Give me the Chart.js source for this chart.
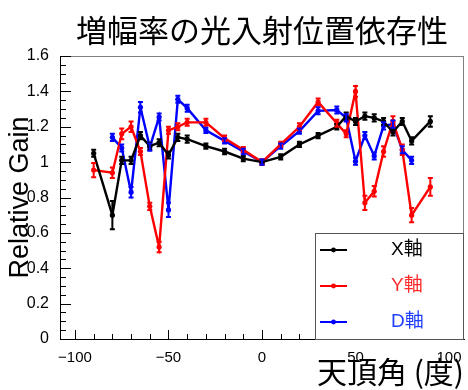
<!DOCTYPE html>
<html>
<head>
<meta charset="utf-8">
<script src="https://cdn.jsdelivr.net/npm/chart.js@4.4.1/dist/chart.umd.min.js"></script>
<style>
  html, body { margin: 0; padding: 0; background: #fff; }
  canvas { display: block; }
</style>
</head>
<body>
<canvas id="c" width="468" height="390"></canvas>
<script>
// Zenith angle (degrees) at which each axis was measured
const anglesX = [-90, -80, -75, -70, -65, -60, -55, -50, -45, -40, -30, -20, -10, 0, 10, 20, 30, 40, 45, 50, 55, 60, 65, 70, 75, 80, 90];
const anglesY = [-90, -80, -75, -70, -65, -60, -55, -50, -45, -40, -30, -20, -10, 0, 10, 20, 30, 40, 45, 50, 55, 60, 65, 70, 75, 80, 90];
const anglesD = [-80, -75, -70, -65, -60, -55, -50, -45, -40, -30, -20, -10, 0, 10, 20, 30, 40, 45, 50, 55, 60, 65, 70, 75, 80];

// Relative gain (normalised to 0 deg) and its uncertainty
const gainX = [1.05, 0.70, 1.01, 1.01, 1.15, 1.09, 1.11, 1.04, 1.14, 1.13, 1.09, 1.06, 1.02, 1.00, 1.03, 1.10, 1.15, 1.20, 1.26, 1.23, 1.26, 1.25, 1.23, 1.17, 1.23, 1.12, 1.23];
const errX  = [0.02, 0.08, 0.02, 0.02, 0.02, 0.02, 0.02, 0.02, 0.02, 0.02, 0.015, 0.015, 0.015, 0.015, 0.015, 0.015, 0.015, 0.015, 0.02, 0.02, 0.02, 0.02, 0.02, 0.02, 0.02, 0.02, 0.03];

const gainY = [0.955, 0.94, 1.16, 1.20, 1.06, 0.75, 0.52, 1.18, 1.20, 1.225, 1.225, 1.135, 1.07, 1.00, 1.10, 1.20, 1.34, 1.22, 1.16, 1.40, 0.77, 0.835, 1.06, 1.23, 1.07, 0.70, 0.86];
const errY  = [0.04, 0.03, 0.03, 0.03, 0.02, 0.02, 0.03, 0.02, 0.02, 0.02, 0.02, 0.015, 0.015, 0.015, 0.015, 0.02, 0.02, 0.02, 0.02, 0.03, 0.04, 0.03, 0.03, 0.03, 0.03, 0.04, 0.05];

const gainD = [1.14, 1.08, 0.83, 1.31, 1.085, 1.255, 0.73, 1.355, 1.305, 1.18, 1.12, 1.06, 1.00, 1.09, 1.175, 1.29, 1.295, 1.25, 1.005, 1.15, 1.035, 1.205, 1.215, 1.07, 1.01];
const errD  = [0.02, 0.02, 0.03, 0.03, 0.02, 0.02, 0.04, 0.02, 0.02, 0.015, 0.015, 0.015, 0.015, 0.015, 0.015, 0.02, 0.02, 0.02, 0.02, 0.02, 0.02, 0.02, 0.02, 0.02, 0.02];

const seriesNames = ['X軸', 'Y軸', 'D軸'];

// Axis ticks
const xMajorTicks = [-100, -50, 0, 50, 100];
const xTickLabels = ['−100', '−50', '0', '50', '100'];
const yMajorTicks = [0, 0.2, 0.4, 0.6, 0.8, 1.0, 1.2, 1.4, 1.6];
const yTickLabels = ['0', '0.2', '0.4', '0.6', '0.8', '1', '1.2', '1.4', '1.6'];
const xMinorStep = 10;
const yMinorStep = 0.05;

const TITLE = '増幅率の光入射位置依存性';
const X_TITLE = '天頂角 (度)';
const Y_TITLE = 'Relative Gain';

const LATIN = "'Liberation Sans', Arial, Helvetica, sans-serif";
const CJK = "'Liberation Sans', 'Noto Sans CJK JP', sans-serif";

function toPoints(xs, ys, es) {
  return xs.map((x, i) => ({ x: x, y: ys[i], err: es[i] }));
}

const colors = ['#000000', '#ff0000', '#0000ff'];
const textColors = ['#000000', '#ff2a2a', '#1f3fff'];

function makeSet(label, pts, color) {
  return {
    label: label,
    data: pts,
    borderColor: color,
    backgroundColor: color,
    borderWidth: 2.4,
    pointRadius: 2.6,
    pointBorderWidth: 0,
    pointBackgroundColor: color,
    showLine: true,
    fill: false,
    tension: 0
  };
}

// White page background
const bgPlugin = {
  id: 'bg',
  beforeDraw(chart) {
    const c = chart.ctx;
    c.save();
    c.fillStyle = '#fff';
    c.fillRect(0, 0, chart.width, chart.height);
    c.restore();
  }
};

// Vertical error bars with end caps
const errorBarPlugin = {
  id: 'errorBars',
  afterDatasetsDraw(chart) {
    const c = chart.ctx;
    const xs = chart.scales.x, ys = chart.scales.y;
    c.save();
    chart.data.datasets.forEach((ds) => {
      c.strokeStyle = ds.borderColor;
      c.lineWidth = 2;
      ds.data.forEach((p) => {
        const px = xs.getPixelForValue(p.x);
        const top = ys.getPixelForValue(p.y + p.err);
        const bot = ys.getPixelForValue(p.y - p.err);
        c.beginPath();
        c.moveTo(px, top); c.lineTo(px, bot);
        c.moveTo(px - 2.5, top); c.lineTo(px + 2.5, top);
        c.moveTo(px - 2.5, bot); c.lineTo(px + 2.5, bot);
        c.stroke();
      });
    });
    c.restore();
  }
};

// Inward tick marks, frame, title and legend box
const decorPlugin = {
  id: 'decor',
  afterDraw(chart) {
    const c = chart.ctx;
    const a = chart.chartArea;
    const xs = chart.scales.x, ys = chart.scales.y;
    c.save();

    // frame (top and right)
    c.strokeStyle = '#808080';
    c.lineWidth = 1;
    c.beginPath();
    c.moveTo(a.left, a.top + 0.5); c.lineTo(a.right, a.top + 0.5);
    c.moveTo(a.right - 0.5, a.top); c.lineTo(a.right - 0.5, a.bottom);
    c.stroke();

    // ticks on the x axis
    c.strokeStyle = '#000';
    c.beginPath();
    for (let v = -100; v <= 100; v += xMinorStep) {
      const px = Math.round(xs.getPixelForValue(v)) + 0.5;
      const len = xMajorTicks.includes(v) ? 9 : 5;
      c.moveTo(px, a.bottom); c.lineTo(px, a.bottom - len);
    }
    // ticks on the y axis
    for (let i = 0; i <= Math.round(1.6 / yMinorStep); i++) {
      const v = i * yMinorStep;
      const py = Math.round(ys.getPixelForValue(v)) + 0.5;
      const major = i % 4 === 0;
      c.moveTo(a.left, py); c.lineTo(a.left + (major ? 11 : 6), py);
    }
    c.stroke();

    // title
    c.fillStyle = '#000';
    c.font = "31px 'Noto Sans CJK JP', sans-serif";
    c.textAlign = 'center';
    c.textBaseline = 'middle';
    c.fillText(TITLE, 262, 30);

    // legend box
    const lx = 315, ly = 233, lw = a.right - lx, lh = a.bottom - ly;
    c.fillStyle = '#fff';
    c.fillRect(lx, ly, lw, lh);
    c.strokeStyle = '#555';
    c.lineWidth = 1;
    c.strokeRect(lx + 0.5, ly + 0.5, lw - 1, lh);
    const rows = [250, 286, 322];
    chart.data.datasets.forEach((ds, i) => {
      const y = rows[i];
      c.strokeStyle = ds.borderColor;
      c.lineWidth = 2;
      c.beginPath();
      c.moveTo(320, y); c.lineTo(347, y);
      c.stroke();
      c.fillStyle = ds.borderColor;
      c.beginPath();
      c.arc(333.5, y, 2.4, 0, Math.PI * 2);
      c.fill();
      c.fillStyle = textColors[i];
      c.font = "19px " + CJK;
      c.textAlign = 'left';
      c.textBaseline = 'middle';
      c.fillText(seriesNames[i], 391, y);
    });
    c.restore();
  }
};

new Chart(document.getElementById('c'), {
  type: 'line',
  data: {
    datasets: [
      makeSet(seriesNames[0], toPoints(anglesX, gainX, errX), colors[0]),
      makeSet(seriesNames[1], toPoints(anglesY, gainY, errY), colors[1]),
      makeSet(seriesNames[2], toPoints(anglesD, gainD, errD), colors[2])
    ]
  },
  options: {
    responsive: false,
    animation: false,
    devicePixelRatio: 1,
    layout: { padding: { top: 56, right: 2, left: 0, bottom: 0 } },
    plugins: {
      legend: { display: false },
      title: { display: false },
      tooltip: { enabled: false }
    },
    scales: {
      x: {
        type: 'linear',
        min: -108,
        max: 108,
        afterBuildTicks: (s) => { s.ticks = xMajorTicks.map((v) => ({ value: v })); },
        afterFit: (s) => { s.height = 51; },
        grid: { display: false },
        border: { display: true, color: '#000', width: 1 },
        ticks: {
          autoSkip: false,
          maxRotation: 0,
          padding: 2,
          color: '#000',
          font: { family: LATIN, size: 15 },
          callback: (v) => {
            const i = xMajorTicks.indexOf(v);
            return i >= 0 ? xTickLabels[i] : '';
          }
        },
        title: {
          display: true,
          text: X_TITLE,
          align: 'end',
          color: '#000',
          font: { family: "'Noto Sans CJK JP', sans-serif", size: 30 },
          padding: { top: 0, bottom: 0 }
        }
      },
      y: {
        type: 'linear',
        min: 0,
        max: 1.6,
        afterBuildTicks: (s) => { s.ticks = yMajorTicks.map((v) => ({ value: v })); },
        afterFit: (s) => { s.width = 60; },
        grid: { display: false },
        border: { display: true, color: '#000', width: 1 },
        ticks: {
          autoSkip: false,
          padding: 3,
          color: '#000',
          font: { family: LATIN, size: 16 },
          callback: (v) => {
            const i = yMajorTicks.findIndex((t) => Math.abs(t - v) < 1e-9);
            return i >= 0 ? yTickLabels[i] : '';
          }
        },
        title: {
          display: true,
          text: Y_TITLE,
          color: '#000',
          font: { family: LATIN, size: 27 },
          padding: { top: 4, bottom: 0 }
        }
      }
    }
  },
  plugins: [bgPlugin, errorBarPlugin, decorPlugin]
});
</script>
</body>
</html>
